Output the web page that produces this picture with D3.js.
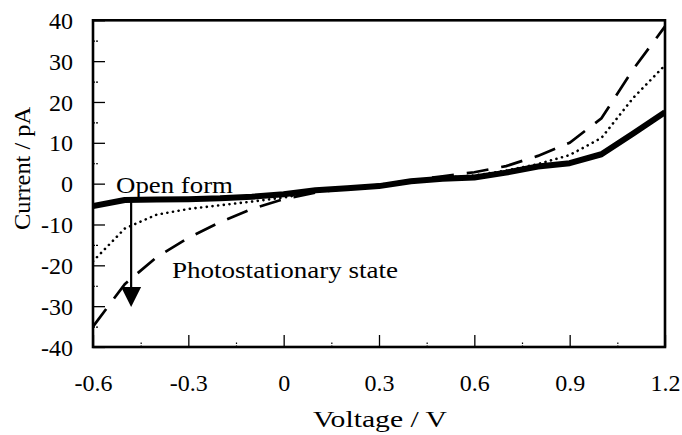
<!DOCTYPE html>
<html>
<head>
<meta charset="utf-8">
<script src="https://cdn.jsdelivr.net/npm/d3@7"></script>
<style>
    body { margin: 0; background: #fff; }
    svg { display: block; }
    svg text { font-family: "Liberation Serif", "Times New Roman", Times; fill: #000; }
</style>
</head>
<body>
<svg width="682" height="435"></svg>
<script>
const VOLTAGE = [-0.6, -0.5, -0.4, -0.3, -0.2, -0.1, 0, 0.1, 0.2, 0.3, 0.4, 0.5, 0.6, 0.7, 0.8, 0.9, 1.0, 1.1, 1.2];
// open form (thick solid)
const OPEN_FORM = [-5.5, -4.0, -3.9, -3.8, -3.6, -3.2, -2.6, -1.6, -1.1, -0.6, 0.6, 1.2, 1.5, 2.7, 4.2, 5.0, 7.2, 12.3, 17.5];
// intermediate (dotted)
const DOTTED = [-19, -11, -7.6, -6.2, -5.3, -4.4, -3.4, -2.0, -1.2, -0.5, 0.7, 1.5, 2.0, 3.2, 4.8, 7.0, 11.2, 21, 29];
// photostationary state (dashed)
const PSS = [-35, -24.6, -18, -13.3, -9.4, -6.2, -3.8, -2.2, -1.2, -0.3, 0.8, 1.8, 2.8, 4.3, 6.8, 10, 16, 28, 38.5];

const X_TICKS = [-0.6, -0.3, 0, 0.3, 0.6, 0.9, 1.2];
const X_MINOR = [-0.45, -0.15, 0.15, 0.45, 0.75, 1.05];
const Y_TICKS = [-40, -30, -20, -10, 0, 10, 20, 30, 40];
const Y_MINOR = [-35, -25, -15, -5, 5, 15, 25, 35];

// arrow from open form down to photostationary state
const ARROW_V = -0.48;
const ARROW_FROM = -3.8;
const ARROW_TO = -30.2;

const FONT = '"Liberation Serif", "Times New Roman", Times';

const svg = d3.select("svg");

const xScale = d3.scaleLinear().domain([-0.6, 1.2]).range([93, 665]);
const yScale = d3.scaleLinear().domain([-40, 40]).range([347, 20.3]);

// minor ticks first
svg.append("g")
    .attr("transform", "translate(0,347)")
    .call(d3.axisBottom(xScale).tickValues(X_MINOR).tickSize(-5).tickFormat(""))
    .call((g) => g.select(".domain").remove())
    .call((g) => g.selectAll("line").attr("stroke", "#000").attr("stroke-width", 1.2).attr("stroke-dasharray", "1.5,1.5"));

svg.append("g")
    .attr("transform", "translate(93,0)")
    .call(d3.axisLeft(yScale).tickValues(Y_MINOR).tickSize(-6).tickFormat(""))
    .call((g) => g.select(".domain").remove())
    .call((g) => g.selectAll("line").attr("stroke", "#000").attr("stroke-width", 1.2).attr("stroke-dasharray", "2,1"));

const xAxis = svg.append("g")
    .attr("transform", "translate(0,347)")
    .attr("font-family", FONT)
    .call(d3.axisBottom(xScale).tickValues(X_TICKS).tickSize(-12).tickPadding(27));
xAxis.attr("font-family", FONT);
xAxis.select(".domain").remove();
xAxis.selectAll("line").attr("stroke", "#000").attr("stroke-width", 1.3);
xAxis.selectAll("text")
    .attr("font-size", 24).attr("fill", "#000")
    .text((d) => String(+d.toFixed(1)));

const yAxis = svg.append("g")
    .attr("transform", "translate(93,0)")
    .call(d3.axisLeft(yScale).tickValues(Y_TICKS).tickSize(-12).tickPadding(20));
yAxis.attr("font-family", FONT);
yAxis.select(".domain").remove();
yAxis.selectAll("line").attr("stroke", "#000").attr("stroke-width", 1.3);
yAxis.selectAll("text")
    .attr("font-size", 24).attr("fill", "#000").attr("dy", "0.34em")
    .text((d) => String(d));

const line = d3.line()
    .x((d) => xScale(d[0]))
    .y((d) => yScale(d[1]));

const zip = (vals) => VOLTAGE.map((v, i) => [v, vals[i]]);

svg.append("clipPath").attr("id", "clip")
    .append("rect")
    .attr("x", xScale(-0.6)).attr("y", yScale(40))
    .attr("width", xScale(1.2) - xScale(-0.6)).attr("height", yScale(-40) - yScale(40));

const lines = svg.append("g").attr("clip-path", "url(#clip)");

lines.append("path")
    .datum(zip(PSS))
    .attr("d", line)
    .attr("fill", "none")
    .attr("stroke", "#000")
    .attr("stroke-width", 2.7)
    .attr("stroke-dasharray", "22,13");

lines.append("path")
    .datum(zip(DOTTED))
    .attr("d", line)
    .attr("fill", "none")
    .attr("stroke", "#000")
    .attr("stroke-width", 2.6)
    .attr("stroke-linecap", "round")
    .attr("stroke-dasharray", "0.1,5.6");

lines.append("path")
    .datum(zip(OPEN_FORM))
    .attr("d", line)
    .attr("fill", "none")
    .attr("stroke", "#000")
    .attr("stroke-width", 6)
    .attr("stroke-linejoin", "round");

// arrow
const ax = xScale(ARROW_V);
const tip = yScale(ARROW_TO);
const headBase = tip - 20;
svg.append("line")
    .attr("x1", ax).attr("x2", ax)
    .attr("y1", yScale(ARROW_FROM)).attr("y2", headBase + 1)
    .attr("stroke", "#000")
    .attr("stroke-width", 2.2);
svg.append("path")
    .attr("d", `M${ax - 10},${headBase}L${ax + 10},${headBase}L${ax},${tip}Z`)
    .attr("fill", "#000");

// frame
svg.append("rect")
    .attr("x", xScale(-0.6)).attr("y", yScale(40))
    .attr("width", xScale(1.2) - xScale(-0.6)).attr("height", yScale(-40) - yScale(40))
    .attr("fill", "none")
    .attr("stroke", "#000")
    .attr("stroke-width", 2.6);

// labels
svg.append("text")
    .attr("x", 116).attr("y", 193)
    .attr("font-size", 23)
    .attr("textLength", 117).attr("lengthAdjust", "spacingAndGlyphs")
    .text("Open form");

svg.append("text")
    .attr("x", 172).attr("y", 278)
    .attr("font-size", 24)
    .attr("textLength", 226).attr("lengthAdjust", "spacingAndGlyphs")
    .text("Photostationary state");

svg.append("text")
    .attr("x", 380).attr("y", 427)
    .attr("text-anchor", "middle")
    .attr("font-size", 24)
    .attr("textLength", 134).attr("lengthAdjust", "spacingAndGlyphs")
    .text("Voltage  /  V");

svg.append("text")
    .attr("transform", "translate(29.5,168.5) rotate(-90)")
    .attr("text-anchor", "middle")
    .attr("font-size", 24)
    .attr("textLength", 123).attr("lengthAdjust", "spacingAndGlyphs")
    .text("Current  /  pA");
</script>
</body>
</html>
